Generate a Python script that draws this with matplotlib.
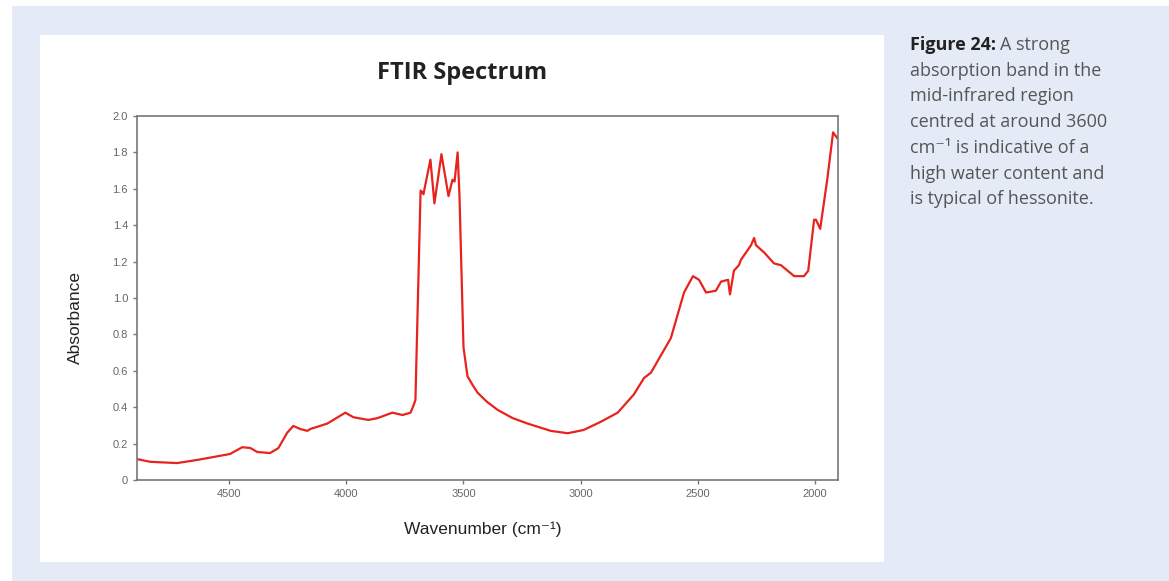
import numpy as np
import matplotlib.pyplot as plt
from matplotlib.patches import Rectangle

# spectrum (wavenumber in cm-1, absorbance)
wavenumber = [4893, 4837, 4722, 4637, 4568, 4496, 4444, 4410, 4380, 4325,
              4290, 4252, 4226, 4196, 4166, 4154, 4081, 4017, 4004, 3970,
              3906, 3867, 3803, 3760, 3726, 3713, 3705, 3683, 3675, 3671,
              3641, 3624, 3594, 3564, 3547, 3538, 3525, 3517, 3500, 3483,
              3460, 3440, 3400, 3354, 3290, 3226, 3128, 3055, 2987, 2914,
              2842, 2773, 2730, 2700, 2615, 2559, 2521, 2495, 2465, 2423,
              2401, 2371, 2363, 2346, 2325, 2316, 2273, 2260, 2252, 2217,
              2175, 2145, 2089, 2047, 2029, 2004, 1996, 1978, 1948, 1923, 1906]
absorbance = [0.115, 0.10, 0.093, 0.11, 0.126, 0.143, 0.18, 0.176, 0.154, 0.148,
              0.175, 0.26, 0.297, 0.28, 0.27, 0.28, 0.31, 0.36, 0.37, 0.345,
              0.33, 0.34, 0.37, 0.357, 0.37, 0.41, 0.44, 1.59, 1.58, 1.57,
              1.76, 1.52, 1.79, 1.56, 1.65, 1.64, 1.80, 1.56, 0.73, 0.57,
              0.52, 0.48, 0.43, 0.385, 0.34, 0.31, 0.27, 0.257, 0.275, 0.32,
              0.37, 0.47, 0.56, 0.59, 0.78, 1.03, 1.12, 1.10, 1.03, 1.04,
              1.09, 1.10, 1.02, 1.15, 1.18, 1.21, 1.29, 1.33, 1.29, 1.25,
              1.19, 1.18, 1.12, 1.12, 1.15, 1.43, 1.43, 1.38, 1.65, 1.91, 1.88]

x_ticks = [4500, 4000, 3500, 3000, 2500, 2000]
y_ticks = [0, 0.2, 0.4, 0.6, 0.8, 1.0, 1.2, 1.4, 1.6, 1.8, 2.0]
y_labels = ["0", "0.2", "0.4", "0.6", "0.8", "1.0", "1.2", "1.4", "1.6", "1.8", "2.0"]

W, H = 1169, 581
fig = plt.figure(figsize=(W / 100, H / 100), dpi=100)
fig.patch.set_facecolor("white")

# page background and white panel
fig.patches.append(Rectangle((12 / W, 0), 1, 1 - 6 / H, transform=fig.transFigure,
                             facecolor="#e4ebf6", edgecolor="none", zorder=0))
fig.patches.append(Rectangle((40 / W, 1 - 562 / H), (884 - 40) / W, (562 - 35) / H,
                             transform=fig.transFigure, facecolor="white",
                             edgecolor="none", zorder=1))

ax = fig.add_axes([137 / W, 1 - 480 / H, (838 - 137) / W, (480 - 116) / H])
ax.set_zorder(2)
ax.plot(wavenumber, absorbance, color="#e8221d", lw=1.6)
ax.set_xlim(4893, 1902)
ax.set_ylim(0, 2.0)
ax.set_xticks(x_ticks)
ax.set_yticks(y_ticks)
ax.set_yticklabels(y_labels)
ax.tick_params(labelsize=8, labelcolor="#666666", color="#777777",
               length=3, width=1, direction="out")
for lab in ax.get_xticklabels() + ax.get_yticklabels():
    lab.set_family("Liberation Sans")
for s in ax.spines.values():
    s.set_color("#777777")
    s.set_linewidth(1.2)

fig.text(462 / W, 1 - 73 / H, "FTIR Spectrum", ha="center", va="center",
         fontsize=17, fontweight="bold", color="#222222", zorder=3,
         family="Open Sans")
fig.text(75 / W, 1 - 317 / H, "Absorbance", rotation=90, ha="center", va="center",
         fontsize=12.5, color="#222222", zorder=3, family="Liberation Sans")
fig.text(483 / W, 1 - 529 / H, "Wavenumber (cm\u207b\u00b9)", ha="center", va="center",
         fontsize=12.5, color="#222222", zorder=3,
         family=["Liberation Sans", "DejaVu Sans"])

# caption on the right
cap_font = ["Open Sans", "DejaVu Sans"]
cap_lines = ["absorption band in the", "mid-infrared region",
             "centred at around 3600", "cm\u207b\u00b9 is indicative of a",
             "high water content and", "is typical of hessonite."]
x0 = 910 / W
y0 = 1 - 45 / H
dy = 25.7 / H
t = fig.text(x0, y0, "Figure 24:", fontsize=13, fontweight="bold", color="#222222",
             va="center", family=cap_font, zorder=3)
fig.canvas.draw()
bb = t.get_window_extent()
fig.text(bb.x1 / W + 4 / W, y0, "A strong", fontsize=13, color="#555555", va="center",
         family=cap_font, zorder=3)
for i, line in enumerate(cap_lines):
    fig.text(x0, y0 - (i + 1) * dy, line, fontsize=13, color="#555555", va="center",
             family=cap_font, zorder=3)

fig.savefig("out.png", dpi=100)
